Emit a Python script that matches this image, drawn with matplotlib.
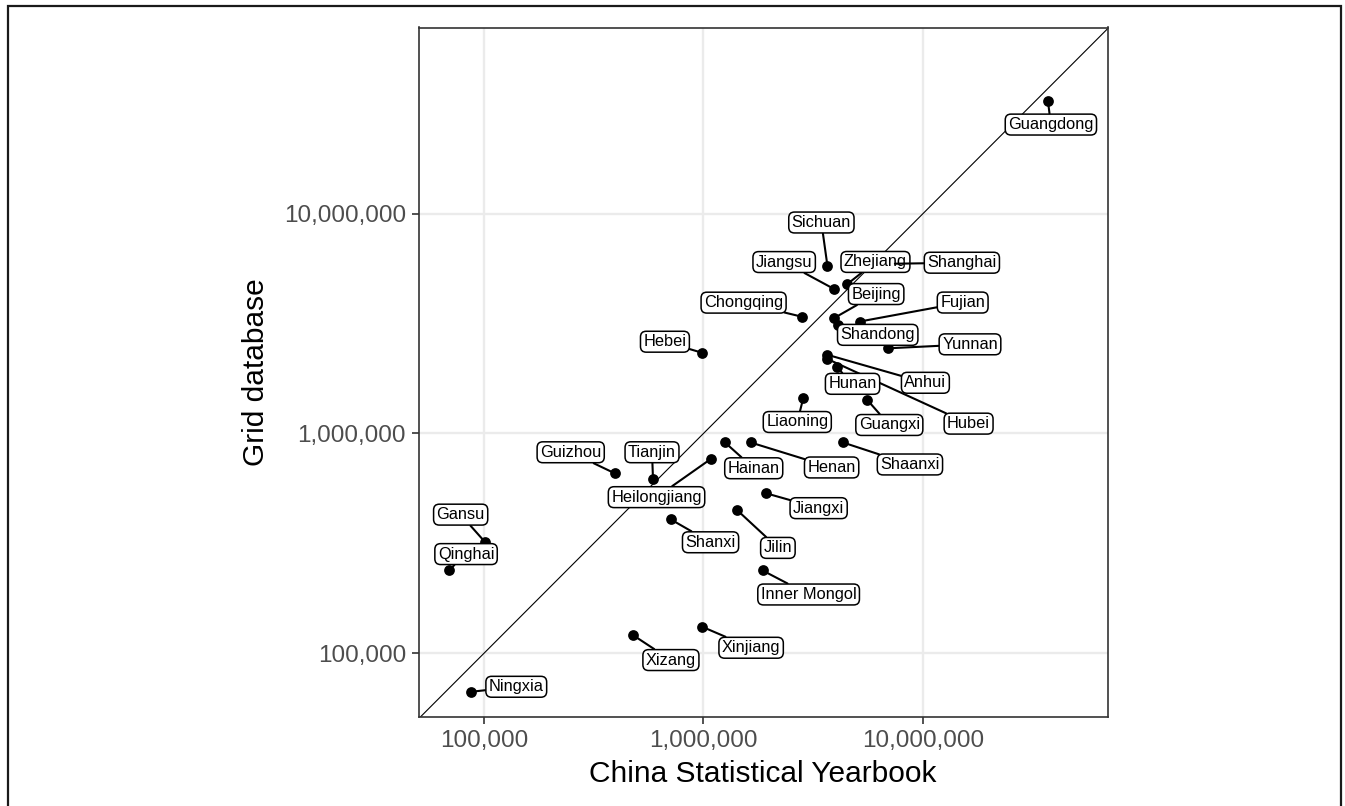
import matplotlib
matplotlib.use("Agg")
import matplotlib.pyplot as plt
from matplotlib.patches import Rectangle
from matplotlib.ticker import FixedLocator, FuncFormatter

plt.rcParams['font.family'] = ['Liberation Sans', 'DejaVu Sans']

# province values (log-log)
provinces = ['Guangdong', 'Sichuan', 'Jiangsu', 'Zhejiang', 'Shanghai', 'Beijing',
             'Fujian', 'Shandong', 'Chongqing', 'Hebei', 'Yunnan', 'Anhui', 'Hubei',
             'Hunan', 'Liaoning', 'Guangxi', 'Hainan', 'Henan', 'Shaanxi',
             'Heilongjiang', 'Tianjin', 'Guizhou', 'Jiangxi', 'Jilin', 'Shanxi',
             'Inner Mongol', 'Gansu', 'Qinghai', 'Xizang', 'Xinjiang', 'Ningxia']
yearbook = [37100000, 3670000, 3940000, 4530000, 7450000, 3940000,
            5150000, 4090000, 2800000, 984000, 6930000, 3670000, 3640000,
            4040000, 2850000, 5580000, 1250000, 1640000, 4320000,
            1077000, 589000, 394000, 1920000, 1420000, 708000,
            1860000, 100700, 69300, 477000, 986000, 87500]
grid_db = [32700000, 5810000, 4540000, 4790000, 5920000, 3350000,
           3230000, 3120000, 3400000, 2330000, 2440000, 2280000, 2190000,
           2010000, 1450000, 1420000, 912000, 910000, 910000,
           764000, 619000, 659000, 535000, 449000, 407000,
           238000, 322000, 239000, 121000, 132000, 66800]

tick_vals = [1e5, 1e6, 1e7]

# label placement (pixel offsets from the point, right / down), mimics ggrepel
label_dx = [3, -6, -50, 28, 67, 42, 103, 40, -58, -37, 82, 98, 142, 16, -6, 22,
            29, 81, 67, -54, -1, -44, 53, 41, 40, 46, -24, 17, 38, 49, 45]
label_dy = [24, -43, -27, -22, -1, -24, -19, 10, -14, -11, -4, 28, 65, 17, 24, 25,
            26, 25, 22, 38, -27, -21, 15, 38, 23, 24, -27, -16, 25, 21, -5]

fig = plt.figure(figsize=(13.45, 8.06), dpi=100)
ax = fig.add_axes([418.6 / 1345, 1 - 717 / 806, (1107.5 - 418.6) / 1345, (717 - 27.5) / 806])

# outer frame of the original figure
fig.patches.append(Rectangle((8 / 1345, -0.1), (1341 - 8) / 1345, 1.1 - 6 / 806,
                             transform=fig.transFigure, fill=False,
                             edgecolor='#1a1a1a', lw=1.6))

ax.set_xscale('log')
ax.set_yscale('log')
ax.set_xlim(10 ** 4.702, 10 ** 7.841)
ax.set_ylim(10 ** 4.710, 10 ** 7.847)

ax.xaxis.set_major_locator(FixedLocator(tick_vals))
ax.yaxis.set_major_locator(FixedLocator(tick_vals))
ax.xaxis.set_minor_locator(FixedLocator([]))
ax.yaxis.set_minor_locator(FixedLocator([]))
fmt = FuncFormatter(lambda v, p: '{:,.0f}'.format(v))
ax.xaxis.set_major_formatter(fmt)
ax.yaxis.set_major_formatter(fmt)

ax.grid(True, which='major', color='#EBEBEB', lw=1.7, zorder=0)
ax.set_axisbelow(True)
for s in ax.spines.values():
    s.set_color('#333333')
    s.set_linewidth(1.2)
ax.tick_params(axis='both', length=5, width=1.2, color='#333333', pad=4,
               labelsize=17.5, labelcolor='#4D4D4D')

ax.axline((1e5, 1e5), (1e7, 1e7), color='black', lw=0.8, zorder=1)

ax.scatter(yearbook, grid_db, s=60, color='black', zorder=2, linewidths=0)

for name, xv, yv, dx, dy in zip(provinces, yearbook, grid_db, label_dx, label_dy):
    ax.annotate(name, (xv, yv), xytext=(dx, -dy), textcoords='offset pixels',
                ha='center', va='center', fontsize=11.8, color='black', zorder=4,
                bbox=dict(boxstyle='round,pad=0.18,rounding_size=0.35',
                          fc='white', ec='black', lw=1.1),
                arrowprops=dict(arrowstyle='-', color='black', lw=1.5,
                                shrinkA=0, shrinkB=0))

ax.set_xlabel('China Statistical Yearbook', fontsize=21.5, labelpad=6)
ax.set_ylabel('Grid database', fontsize=21.5, labelpad=10)

fig.savefig('out.png', dpi=100)
